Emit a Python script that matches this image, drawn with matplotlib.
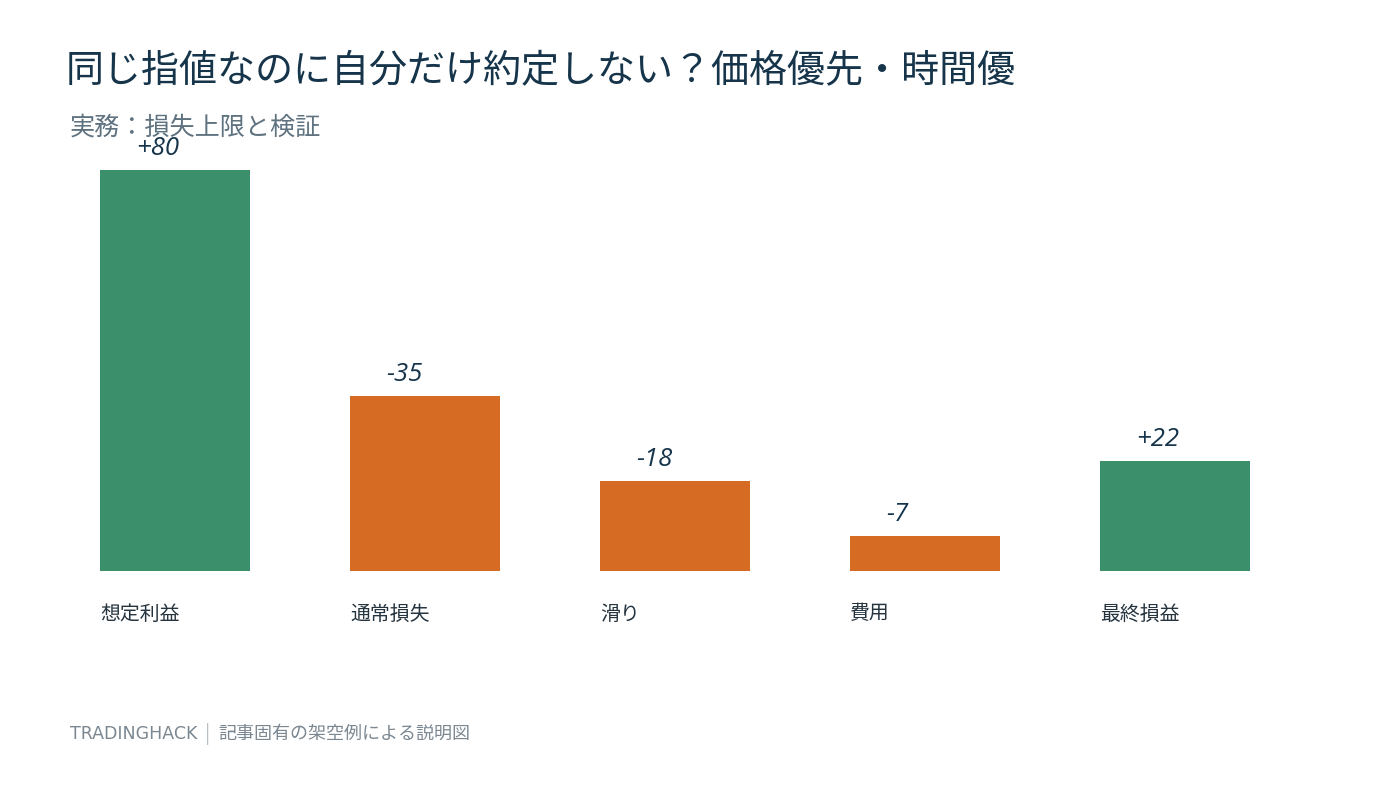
import matplotlib
matplotlib.use("Agg")
import matplotlib.pyplot as plt

# データ
categories = ["想定利益", "通常損失", "滑り", "費用", "最終損益"]
values = [80, -35, -18, -7, 22]
value_labels = ["+80", "-35", "-18", "-7", "+22"]

title = "同じ指値なのに自分だけ約定しない？価格優先・時間優"
subtitle = "実務：損失上限と検証"
footer_brand = "TRADINGHACK"
footer_text = "記事固有の架空例による説明図"

GREEN = "#3b8f6b"
ORANGE = "#d66b23"
NAVY = "#16344a"
GRAY = "#5f7280"

plt.rcParams["font.family"] = ["Noto Sans CJK JP", "DejaVu Sans"]

W, H = 1400, 788
fig = plt.figure(figsize=(W / 100, H / 100), dpi=100)
fig.patch.set_facecolor("white")

# 軸: 0 が y=571px, 80 が y=170px, 棒中心は 175px から 250px 間隔
ax = fig.add_axes([50 / W, (H - 571) / H, 1250 / W, 401 / H])
ax.set_xlim(-0.5, len(categories) - 0.5)
ax.set_ylim(0, 80)
ax.axis("off")

x = list(range(len(categories)))
heights = [abs(v) for v in values]
colors = [GREEN if v > 0 else ORANGE for v in values]
ax.bar(x, heights, width=0.6, color=colors, align="center")

for xi, h, lab in zip(x, heights, value_labels):
    ax.annotate(lab, (xi - 0.3, h), xytext=(36, 15), textcoords="offset pixels",
                ha="left", va="baseline", fontsize=18.5, style="italic",
                color=NAVY, family=["Open Sans", "DejaVu Sans"])

for xi, cat in zip(x, categories):
    ax.annotate(cat, (xi - 0.3, 0), xytext=(0, -43), textcoords="offset pixels",
                ha="left", va="center", fontsize=14.3, color="#25343f",
                annotation_clip=False)

fig.text(66 / W, 1 - 72 / H, title, fontsize=27.4, color=NAVY, ha="left", va="center")
fig.text(70 / W, 1 - 128 / H, subtitle, fontsize=18.1, color=GRAY, ha="left", va="center")

fig.text(70 / W, 1 - 734 / H, footer_brand, fontsize=12.5, color="#7b8791",
         ha="left", va="center", family=["DejaVu Sans"])
fig.text(208 / W, 1 - 734 / H, "|", fontsize=14, color="#b9c0c6", ha="center", va="center")
fig.text(218 / W, 1 - 734 / H, footer_text, fontsize=13, color="#7b8791",
         ha="left", va="center")

fig.savefig("out.png", dpi=100, facecolor="white")
